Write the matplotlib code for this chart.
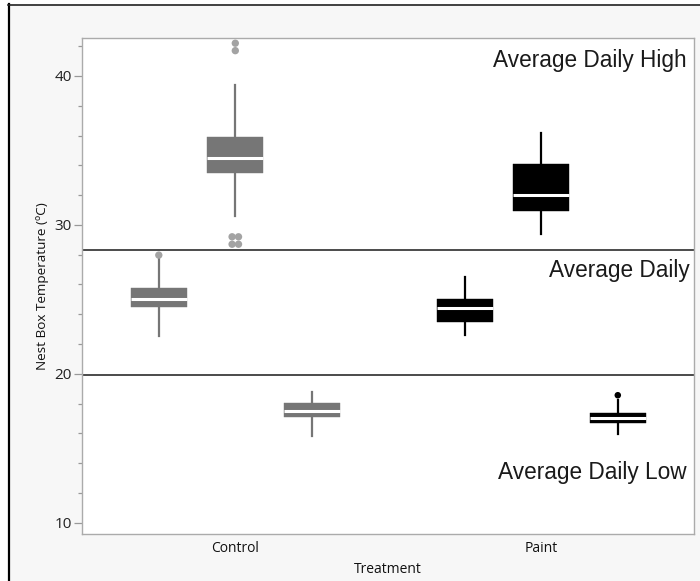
import matplotlib
matplotlib.use("Agg")
import matplotlib.pyplot as plt
from matplotlib.patches import Rectangle
from matplotlib.lines import Line2D
from matplotlib.ticker import MultipleLocator
import numpy as np

# ---------------- data ----------------
treatments = ["Control", "Paint"]
groups = ["Average Daily", "Average Daily High", "Average Daily Low"]

# five-number summaries per treatment, per group (whislo, q1, med, q3, whishi)
control_avg = [22.55, 24.46, 25.03, 25.77, 27.75]
control_high = [30.61, 33.46, 34.49, 35.92, 39.40]
control_low = [15.83, 17.10, 17.53, 18.05, 18.78]
paint_avg = [22.59, 23.45, 24.43, 25.01, 26.47]
paint_high = [29.38, 30.95, 32.00, 34.07, 36.15]
paint_low = [15.94, 16.70, 17.04, 17.37, 18.23]

control_avg_out = [27.97]
control_high_out = [42.2, 41.7, 29.2, 29.2, 28.7, 28.7]
control_low_out = []
paint_avg_out = []
paint_high_out = []
paint_low_out = [18.56]

divider_values = [28.3, 19.9]
y_ticks = [10, 20, 30, 40]

# ---------------- style ----------------
W, H, DPI = 700, 581, 100
fig = plt.figure(figsize=(W / DPI, H / DPI), dpi=DPI, facecolor="white")

# screenshot panel background and frame
fig.add_artist(Rectangle((8 / W, 0), 1, 1 - 4 / H, transform=fig.transFigure,
                         facecolor="#f7f7f7", edgecolor="none", zorder=-10))
fig.add_artist(Line2D([8.5 / W, 8.5 / W], [0, 1 - 4 / H], transform=fig.transFigure,
                      color="black", lw=1.6))
fig.add_artist(Line2D([8 / W, 1], [1 - 4.5 / H, 1 - 4.5 / H], transform=fig.transFigure,
                      color="#222222", lw=1.2))

left, right = 82.3 / W, 694.3 / W
bottom, top = 1 - 534.3 / H, 1 - 38.3 / H
ax = fig.add_axes([left, bottom, right - left, top - bottom])
ax.set_facecolor("white")

offsets = {"Average Daily": -0.25, "Average Daily High": 0.0, "Average Daily Low": 0.25}
colors = {"Control": "#767676", "Paint": "#000000"}
flier_colors = {"Control": "#a3a3a3", "Paint": "#000000"}
box_w = 0.182

summaries = {
    "Control": {"Average Daily": control_avg, "Average Daily High": control_high,
                "Average Daily Low": control_low},
    "Paint": {"Average Daily": paint_avg, "Average Daily High": paint_high,
              "Average Daily Low": paint_low},
}
outliers = {
    "Control": {"Average Daily": control_avg_out, "Average Daily High": control_high_out,
                "Average Daily Low": control_low_out},
    "Paint": {"Average Daily": paint_avg_out, "Average Daily High": paint_high_out,
              "Average Daily Low": paint_low_out},
}

for ti, t in enumerate(treatments):
    col = colors[t]
    for g in groups:
        lo, q1, med, q3, hi = summaries[t][g]
        pos = ti + offsets[g]
        st = [dict(whislo=lo, q1=q1, med=med, q3=q3, whishi=hi, fliers=[])]
        ax.bxp(st, positions=[pos], widths=box_w, patch_artist=True,
               showfliers=False, showcaps=False,
               boxprops=dict(facecolor=col, edgecolor=col, linewidth=0.3),
               whiskerprops=dict(color=col, linewidth=1.6),
               medianprops=dict(color="white", linewidth=2.2, solid_capstyle="butt"),
               manage_ticks=False, zorder=3)
        vals = outliers[t][g]
        if vals:
            vals = np.array(vals)
            xs = np.zeros(len(vals))
            for v in np.unique(vals):
                idx = np.where(vals == v)[0]
                n = len(idx)
                xs[idx] = (np.arange(n) - (n - 1) / 2) * 0.021
            ms = 28 if t == "Control" else 22
            ax.scatter(pos + xs, vals, s=ms, color=flier_colors[t],
                       edgecolors="none", zorder=4)

for v in divider_values:
    ax.axhline(v, color="#1a1a1a", lw=1.1, zorder=2)

ax.set_xlim(-0.5, 1.5)
ax.set_ylim(9.22, 42.53)
ax.set_xticks(range(len(treatments)))
ax.set_xticklabels(treatments)
ax.set_yticks(y_ticks)
ax.yaxis.set_minor_locator(MultipleLocator(2))

for s in ax.spines.values():
    s.set_color("#ababab")
    s.set_linewidth(1.0)

ax.tick_params(axis="y", which="major", length=5.8, width=0.9, color="#999999",
               pad=1.9, labelsize=11, labelcolor="#222222")
ax.tick_params(axis="y", which="minor", length=2.9, width=0.9, color="#999999")
ax.tick_params(axis="x", length=0, pad=5.0, labelsize=10, labelcolor="#111111")
for lab in ax.get_xticklabels() + ax.get_yticklabels():
    lab.set_family("Open Sans")

ax.set_xlabel("Treatment", family="Open Sans", fontsize=10, color="#111111", labelpad=4)
ax.set_ylabel("Nest Box Temperature (ºC)", family="Open Sans", fontsize=9.7,
              color="#111111", labelpad=4)

# group annotations (right-aligned inside plot)
label_y = {"Average Daily High": 40.63, "Average Daily": 26.51, "Average Daily Low": 12.92}
label_x = {"Average Daily High": (687 - 82.3) / 612, "Average Daily": (690 - 82.3) / 612,
           "Average Daily Low": (686.5 - 82.3) / 612}
trans = matplotlib.transforms.blended_transform_factory(ax.transAxes, ax.transData)
for g in groups:
    ax.text(label_x[g], label_y[g], g, transform=trans, ha="right", va="baseline",
            family="Liberation Sans", fontsize=16.3, color="#1a1a1a", zorder=5)

fig.savefig("out.png", dpi=DPI, facecolor=fig.get_facecolor())
